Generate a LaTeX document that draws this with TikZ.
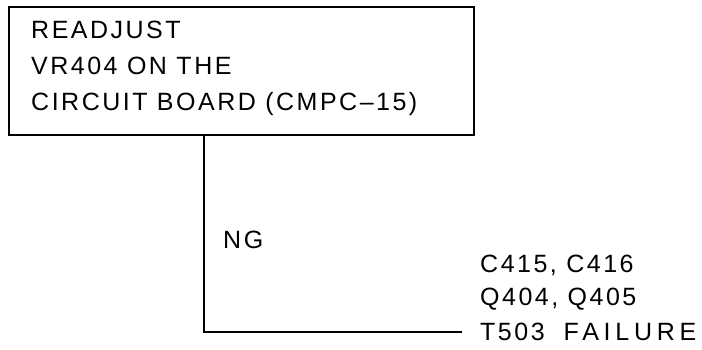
\documentclass[tikz,border=0pt]{standalone}
\usepackage{fontspec}
\setmainfont{Liberation Sans}[LetterSpace=10]
\begin{document}
\begin{tikzpicture}[x=1pt,y=1pt,
  lbl/.style={anchor=base west, inner sep=0pt, font=\fontsize{25}{34.5}\selectfont},
  boxstyle/.style={draw, line width=1.6pt, minimum width=465pt, minimum height=128pt, inner sep=0pt},
  conn/.style={draw, line width=1.6pt}]
\useasboundingbox (0,0) rectangle (702,349);
\node[boxstyle] (box) at (241.5,278) {};
\node[lbl] (l1) at (31,310) {READJUST};
\node[lbl] (l2) at (31,275) {VR404 ON THE};
\node[lbl] (l3) at (31,239) {CIRCUIT BOARD (CMPC–15)};
\node[lbl] (ng) at (223,101) {NG};
\node[lbl] (r1) at (480,77) {C415, C416};
\node[lbl] (r2) at (480,44) {Q404, Q405};
\node[lbl] (r3) at (480,9) {T503\hspace{19pt}{\addfontfeature{LetterSpace=19}FAILURE}};
\coordinate (lineend) at (462,17);
\draw[conn] ([xshift=-37.5pt]box.south) |- (lineend);
\end{tikzpicture}
\end{document}
